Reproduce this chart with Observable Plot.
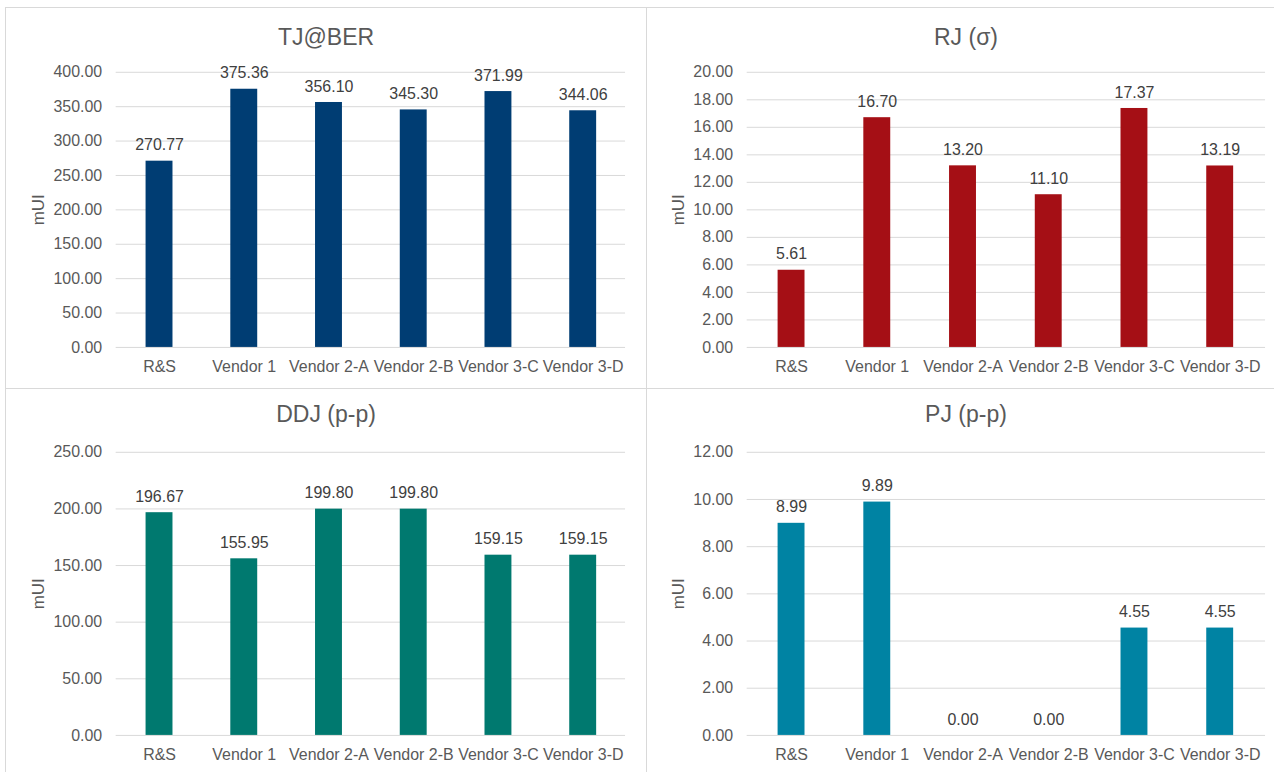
<!DOCTYPE html>
<html>
<head>
<meta charset="utf-8">
<script src="https://cdn.jsdelivr.net/npm/d3@7"></script>
<script src="https://cdn.jsdelivr.net/npm/@observablehq/plot@0.6"></script>
<style>
  html, body { margin: 0; padding: 0; background: #fff; }
  body { width: 1274px; height: 772px; position: relative; overflow: hidden;
         font-family: "Liberation Sans", Arial, sans-serif; }
  .panel { position: absolute; box-sizing: border-box; border: 1px solid #d9d9d9; background: #fff; }
  .title { position: absolute; left: 0; right: 0; text-align: center; font-size: 23px; color: #595959; }
  .panel svg { position: absolute; left: 0; top: 0; }
  .panel svg [aria-label="y-axis label"] text { font-size: 17px; }
</style>
</head>
<body>
<script>
// Jitter components per device, in mUI
const categories = ["R&S", "Vendor 1", "Vendor 2-A", "Vendor 2-B", "Vendor 3-C", "Vendor 3-D"];
const tjValues  = [270.77, 375.36, 356.10, 345.30, 371.99, 344.06];
const rjValues  = [5.61, 16.70, 13.20, 11.10, 17.37, 13.19];
const ddjValues = [196.67, 155.95, 199.80, 199.80, 159.15, 159.15];
const pjValues  = [8.99, 9.89, 0.00, 0.00, 4.55, 4.55];

const tjTicks  = [0, 50, 100, 150, 200, 250, 300, 350, 400];
const rjTicks  = [0, 2, 4, 6, 8, 10, 12, 14, 16, 18, 20];
const ddjTicks = [0, 50, 100, 150, 200, 250];
const pjTicks  = [0, 2, 4, 6, 8, 10, 12];

function panel({title, values, ticks, color, left, top, width, height, mt, mb, ml, mr, labelOffset, titleTop}) {
  const box = document.createElement("div");
  box.className = "panel";
  Object.assign(box.style, {left: left + "px", top: top + "px", width: width + "px", height: height + "px"});

  const rows = categories.map((c, i) => ({category: c, value: values[i]}));

  const chart = Plot.plot({
    width, height,
    marginTop: mt, marginBottom: mb, marginLeft: ml, marginRight: mr,
    style: {fontFamily: "'Liberation Sans', Arial, sans-serif", fontSize: "16px", color: "#595959", background: "transparent", overflow: "visible"},
    x: {domain: categories, paddingInner: 0.685, paddingOuter: 0.3425},
    y: {domain: [0, ticks[ticks.length - 1]]},
    marks: [
      Plot.ruleY(ticks, {stroke: "#d9d9d9", strokeWidth: 1}),
      Plot.barY(rows, {x: "category", y: "value", fill: color}),
      Plot.text(rows, {x: "category", y: "value", text: d => d.value.toFixed(2), dy: -16, fill: "#404040"}),
      Plot.axisY({ticks, tickFormat: d => d.toFixed(2), tickSize: 0, tickPadding: 14,
                  label: "mUI", labelAnchor: "center", labelOffset, labelArrow: "none"}),
      Plot.axisX({tickSize: 0, tickPadding: 13, label: null})
    ]
  });
  chart.style.left = "-1px";
  chart.style.top = "-1px";
  box.appendChild(chart);

  const t = document.createElement("div");
  t.className = "title";
  t.textContent = title;
  t.style.top = titleTop + "px";
  box.appendChild(t);

  document.body.appendChild(box);
}

panel({title: "TJ@BER", values: tjValues, ticks: tjTicks, color: "#003D73",
       left: 5, top: 7, width: 642, height: 382, mt: 65, mb: 41, ml: 111, mr: 20, labelOffset: 84, titleTop: 16});
panel({title: "RJ (σ)", values: rjValues, ticks: rjTicks, color: "#A50F15",
       left: 646, top: 7, width: 640, height: 382, mt: 65, mb: 41, ml: 101, mr: 19, labelOffset: 75, titleTop: 16});
panel({title: "DDJ (p-p)", values: ddjValues, ticks: ddjTicks, color: "#00796F",
       left: 5, top: 388, width: 642, height: 400, mt: 64, mb: 52, ml: 111, mr: 20, labelOffset: 84, titleTop: 12});
panel({title: "PJ (p-p)", values: pjValues, ticks: pjTicks, color: "#0083A3",
       left: 646, top: 388, width: 640, height: 400, mt: 64, mb: 52, ml: 101, mr: 19, labelOffset: 75, titleTop: 12});
</script>
</body>
</html>
